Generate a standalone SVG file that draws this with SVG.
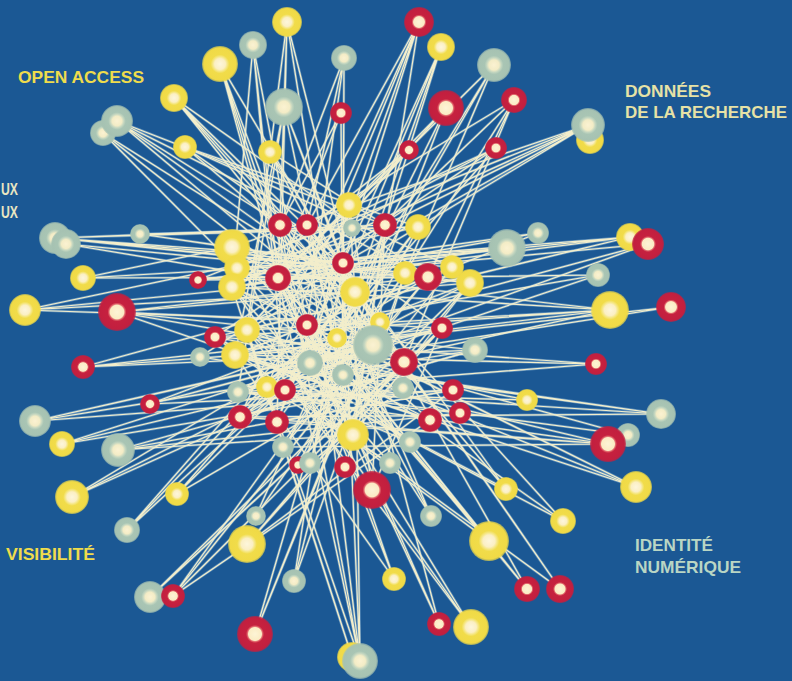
<svg xmlns="http://www.w3.org/2000/svg" xmlns:xlink="http://www.w3.org/1999/xlink" width="792" height="681" viewBox="0 0 792 681">
<defs>
<radialGradient id="gy"><stop offset="0" stop-color="#fdf6dc"/><stop offset="0.3" stop-color="#fbefc4"/><stop offset="0.42" stop-color="#f5e67e"/><stop offset="0.52" stop-color="#f1dc4a"/><stop offset="0.9" stop-color="#f0da46"/><stop offset="1" stop-color="#f0da46" stop-opacity="0.6"/></radialGradient>
<radialGradient id="gs"><stop offset="0" stop-color="#fbf2d2"/><stop offset="0.3" stop-color="#f3ecc6"/><stop offset="0.44" stop-color="#c2d5bf"/><stop offset="0.55" stop-color="#a9c5b4"/><stop offset="0.9" stop-color="#a6c2b2"/><stop offset="1" stop-color="#a6c2b2" stop-opacity="0.6"/></radialGradient>
<radialGradient id="gr"><stop offset="0" stop-color="#fdf4d6"/><stop offset="0.36" stop-color="#fbecc4"/><stop offset="0.42" stop-color="#e26a6e"/><stop offset="0.5" stop-color="#c6213f"/><stop offset="0.9" stop-color="#c21f3f"/><stop offset="1" stop-color="#c21f3f" stop-opacity="0.65"/></radialGradient>
<style>
.y{fill:url(#gy)}.s{fill:url(#gs)}.r{fill:url(#gr)}
.lab{font-family:"Liberation Sans",Arial,sans-serif;font-weight:bold;font-size:17px}
</style>
</defs>
<rect width="792" height="681" fill="#1b5894"/>
<g id="labels">
<text class="lab" x="18" y="83" textLength="126" lengthAdjust="spacingAndGlyphs" fill="#efdc4c">OPEN ACCESS</text>
<text class="lab" x="1" y="195" textLength="17" lengthAdjust="spacingAndGlyphs" fill="#e9e6c2">UX</text>
<text class="lab" x="1" y="218" textLength="17" lengthAdjust="spacingAndGlyphs" fill="#e9e6c2">UX</text>
<text class="lab" x="625" y="97" textLength="86" lengthAdjust="spacingAndGlyphs" fill="#e6e2a6">DONNÉES</text>
<text class="lab" x="625" y="118" textLength="162" lengthAdjust="spacingAndGlyphs" fill="#e6e2a6">DE LA RECHERCHE</text>
<text class="lab" x="6" y="560" textLength="89" lengthAdjust="spacingAndGlyphs" fill="#efdc4c">VISIBILITÉ</text>
<text class="lab" x="635" y="551" textLength="78" lengthAdjust="spacingAndGlyphs" fill="#b9d6c4">IDENTITÉ</text>
<text class="lab" x="635" y="573" textLength="106" lengthAdjust="spacingAndGlyphs" fill="#b9d6c4">NUMÉRIQUE</text>
</g>
<defs>
<g id="edgepaths">
<path d="M287 22L355 292M287 22L353 435M287 22L277 422M287 22L278 278M287 22L247 330"/>
<path d="M253 45L278 278M253 45L307 325M253 45L285 390M253 45L232 287"/>
<path d="M220 64L278 278M220 64L355 292M220 64L307 325M220 64L280 225M220 64L310 363"/>
<path d="M419 22L277 422M419 22L240 417M419 22L353 435M419 22L343 263M419 22L267 387M419 22L278 278"/>
<path d="M441 47L285 390M441 47L355 292M441 47L310 363M441 47L385 225"/>
<path d="M344 58L280 225M344 58L307 225M344 58L307 325M344 58L343 263M344 58L343 375"/>
<path d="M494 65L355 292M494 65L337 338M494 65L405 273M494 65L278 278"/>
<path d="M514 100L343 263M514 100L405 273M514 100L428 277M514 100L307 225M514 100L404 362"/>
<path d="M446 108L343 375M446 108L278 278M446 108L247 330M446 108L355 292"/>
<path d="M284 107L355 292M284 107L353 435M284 107L373 345M284 107L235 355M284 107L238 392"/>
<path d="M174 98L355 292M174 98L428 277M174 98L404 362M174 98L373 345M174 98L343 263"/>
<path d="M117 121L385 225M117 121L343 263M117 121L428 277M117 121L355 292M117 121L404 362"/>
<path d="M103 133L355 292M103 133L373 345M103 133L343 375"/>
<path d="M185 147L418 227M185 147L452 267M185 147L355 292M185 147L442 328"/>
<path d="M341 113L280 225M341 113L278 278M341 113L343 375"/>
<path d="M270 152L373 345M270 152L404 362M270 152L385 225"/>
<path d="M409 150L232 287M409 150L278 278M409 150L247 330"/>
<path d="M496 148L215 337M496 148L232 287M496 148L237 268M496 148L285 390"/>
<path d="M588 125L232 247M588 125L232 287M588 125L278 278M588 125L343 263M588 125L198 280M588 125L247 330"/>
<path d="M55 238L385 225M55 238L418 227M55 238L405 273M55 238L428 277M55 238L452 267M55 238L343 263"/>
<path d="M66 244L470 283M66 244L355 292"/>
<path d="M140 234L418 227M140 234L343 263M140 234L470 283"/>
<path d="M83 278L232 247M83 278L343 263M83 278L428 277"/>
<path d="M25 310L418 227M25 310L405 273M25 310L355 292M25 310L380 322"/>
<path d="M117 312L428 277M117 312L470 283M117 312L404 362M117 312L430 420M117 312L475 350M117 312L442 328"/>
<path d="M83 367L442 328M83 367L475 350M83 367L355 292M83 367L373 345"/>
<path d="M150 404L442 328M150 404L373 345M150 404L470 283M150 404L453 390"/>
<path d="M35 421L373 345M35 421L404 362M35 421L442 328M35 421L453 390M35 421L475 350"/>
<path d="M62 444L404 362M62 444L403 388M62 444L373 345"/>
<path d="M118 450L453 390M118 450L460 413M118 450L353 435M118 450L475 350"/>
<path d="M72 497L373 345M72 497L337 338M72 497L343 375"/>
<path d="M177 494L404 362M177 494L310 363M177 494L355 292"/>
<path d="M127 530L307 325M127 530L337 338M127 530L355 292"/>
<path d="M256 516L355 292M256 516L373 345"/>
<path d="M247 544L404 362M247 544L453 390M247 544L442 328M247 544L470 283"/>
<path d="M150 597L442 328M150 597L404 362M150 597L470 283"/>
<path d="M173 596L428 277M173 596L405 273M173 596L373 345M173 596L430 420M173 596L442 328"/>
<path d="M255 634L373 345M255 634L355 292M255 634L380 322"/>
<path d="M294 581L385 225M294 581L405 273M294 581L343 263"/>
<path d="M352 657L232 287M352 657L247 330"/>
<path d="M360 661L278 278M360 661L280 225M360 661L343 263M360 661L307 225M360 661L247 330M360 661L355 292"/>
<path d="M394 579L307 325M394 579L278 278M394 579L235 355"/>
<path d="M439 624L278 278M439 624L307 325M439 624L343 263"/>
<path d="M471 627L247 330M471 627L232 287M471 627L310 363"/>
<path d="M431 516L280 225M431 516L307 225M431 516L278 278"/>
<path d="M489 541L232 247M489 541L278 278M489 541L307 325M489 541L285 390"/>
<path d="M506 489L280 225M506 489L343 263M506 489L215 337"/>
<path d="M527 589L278 278M527 589L307 325M527 589L343 263"/>
<path d="M560 589L307 225M560 589L355 292M560 589L215 337"/>
<path d="M563 521L215 337M563 521L355 292M563 521L232 287"/>
<path d="M636 487L247 330M636 487L337 338M636 487L232 287M636 487L235 355"/>
<path d="M372 490L385 225M372 490L343 263M372 490L442 328"/>
<path d="M538 233L232 287M538 233L235 355M538 233L198 280"/>
<path d="M630 237L232 287M630 237L247 330M630 237L198 280M630 237L215 337M630 237L237 268"/>
<path d="M648 244L278 278M648 244L235 355M648 244L238 392"/>
<path d="M598 275L198 280M598 275L267 387M598 275L307 325"/>
<path d="M610 310L237 268M610 310L232 287M610 310L247 330M610 310L215 337M610 310L235 355M610 310L238 392"/>
<path d="M671 307L235 355M671 307L310 363"/>
<path d="M596 364L235 355M596 364L238 392M596 364L215 337"/>
<path d="M527 400L215 337M527 400L238 392"/>
<path d="M661 414L310 363M661 414L235 355M661 414L240 417M661 414L285 390"/>
<path d="M628 435L247 330M628 435L267 387"/>
<path d="M608 444L238 392M608 444L240 417M608 444L277 422M608 444L283 447M608 444L235 355"/>
<path d="M507 248L198 280M507 248L232 287M507 248L237 268"/>
<path d="M349 205L355 292M349 205L373 345M349 205L310 363M280 225L353 435M307 225L343 375M385 225L353 435M418 227L310 363M418 227L277 422M232 247L355 292M232 247L373 345M237 268L404 362M232 287L404 362M278 278L353 435M343 263L277 422M355 292L240 417M405 273L283 447M428 277L238 392M452 267L235 355M470 283L267 387M337 338L430 420M380 322L240 417M373 345L240 417M247 330L410 442M235 355L430 420M475 350L240 417M310 363L410 442M343 375L430 420M267 387L390 463M285 390L410 442M238 392L460 413M403 388L310 463M453 390L277 422M353 435L247 330M353 435L470 283M298 465L452 267M310 463L355 292M345 467L405 273M390 463L232 287M283 447L428 277M345 467L232 247M298 465L418 227M310 463L385 225M200 357L403 388M200 357L343 263"/>
</g>
</defs>
<g id="connectors" fill="none" stroke-linecap="round">
<use xlink:href="#edgepaths" stroke="#9fc6e2" stroke-width="2.6" stroke-opacity="0.5"/>
<use xlink:href="#edgepaths" stroke="#f3eecb" stroke-width="1.2"/>
</g>
<g id="nodes">
<g id="t13"><circle cx="103" cy="133" r="13" class="s"/></g>
<g id="t12"><circle cx="117" cy="121" r="16" class="s"/></g>
<g id="t19"><circle cx="590" cy="140" r="14" class="y"/></g>
<g id="t20"><circle cx="588" cy="125" r="17" class="s"/></g>
<g id="t1"><circle cx="287" cy="22" r="15" class="y"/></g>
<g id="t2"><circle cx="253" cy="45" r="14" class="s"/></g>
<g id="t3"><circle cx="220" cy="64" r="18" class="y"/></g>
<g id="t4"><circle cx="419" cy="22" r="15" class="r"/></g>
<g id="t5"><circle cx="441" cy="47" r="14" class="y"/></g>
<g id="t6"><circle cx="344" cy="58" r="13" class="s"/></g>
<g id="t7"><circle cx="494" cy="65" r="17" class="s"/></g>
<g id="t8"><circle cx="514" cy="100" r="13" class="r"/></g>
<g id="t9"><circle cx="446" cy="108" r="18" class="r"/></g>
<g id="t10"><circle cx="284" cy="107" r="19" class="s"/></g>
<g id="t11"><circle cx="174" cy="98" r="14" class="y"/></g>
<g id="t14"><circle cx="185" cy="147" r="12" class="y"/></g>
<g id="t15"><circle cx="341" cy="113" r="11" class="r"/></g>
<g id="t16"><circle cx="270" cy="152" r="12" class="y"/></g>
<g id="t17"><circle cx="409" cy="150" r="10" class="r"/></g>
<g id="t18"><circle cx="496" cy="148" r="11" class="r"/></g>
<g id="l1"><circle cx="55" cy="238" r="16" class="s"/></g>
<g id="l2"><circle cx="66" cy="244" r="15" class="s"/></g>
<g id="l3"><circle cx="140" cy="234" r="10" class="s"/></g>
<g id="l4"><circle cx="83" cy="278" r="13" class="y"/></g>
<g id="l5"><circle cx="25" cy="310" r="16" class="y"/></g>
<g id="l6"><circle cx="117" cy="312" r="19" class="r"/></g>
<g id="l7"><circle cx="83" cy="367" r="12" class="r"/></g>
<g id="l8"><circle cx="150" cy="404" r="10" class="r"/></g>
<g id="l9"><circle cx="35" cy="421" r="16" class="s"/></g>
<g id="l10"><circle cx="62" cy="444" r="13" class="y"/></g>
<g id="l11"><circle cx="118" cy="450" r="17" class="s"/></g>
<g id="l12"><circle cx="72" cy="497" r="17" class="y"/></g>
<g id="l13"><circle cx="177" cy="494" r="12" class="y"/></g>
<g id="l14"><circle cx="127" cy="530" r="13" class="s"/></g>
<g id="b1"><circle cx="256" cy="516" r="10" class="s"/></g>
<g id="b2"><circle cx="247" cy="544" r="19" class="y"/></g>
<g id="b3"><circle cx="150" cy="597" r="16" class="s"/></g>
<g id="b4"><circle cx="173" cy="596" r="12" class="r"/></g>
<g id="b5"><circle cx="255" cy="634" r="18" class="r"/></g>
<g id="b6"><circle cx="294" cy="581" r="12" class="s"/></g>
<g id="b7"><circle cx="352" cy="657" r="15" class="y"/></g>
<g id="b8"><circle cx="360" cy="661" r="18" class="s"/></g>
<g id="b9"><circle cx="394" cy="579" r="12" class="y"/></g>
<g id="b10"><circle cx="439" cy="624" r="12" class="r"/></g>
<g id="b11"><circle cx="471" cy="627" r="18" class="y"/></g>
<g id="b12"><circle cx="431" cy="516" r="11" class="s"/></g>
<g id="b13"><circle cx="489" cy="541" r="20" class="y"/></g>
<g id="b14"><circle cx="506" cy="489" r="12" class="y"/></g>
<g id="b15"><circle cx="527" cy="589" r="13" class="r"/></g>
<g id="b16"><circle cx="560" cy="589" r="14" class="r"/></g>
<g id="b17"><circle cx="563" cy="521" r="13" class="y"/></g>
<g id="b18"><circle cx="636" cy="487" r="16" class="y"/></g>
<g id="b19"><circle cx="372" cy="490" r="19" class="r"/></g>
<g id="r1"><circle cx="538" cy="233" r="11" class="s"/></g>
<g id="r2"><circle cx="630" cy="237" r="14" class="y"/></g>
<g id="r3"><circle cx="648" cy="244" r="16" class="r"/></g>
<g id="r4"><circle cx="598" cy="275" r="12" class="s"/></g>
<g id="r5"><circle cx="610" cy="310" r="19" class="y"/></g>
<g id="r6"><circle cx="671" cy="307" r="15" class="r"/></g>
<g id="r7"><circle cx="596" cy="364" r="11" class="r"/></g>
<g id="r8"><circle cx="527" cy="400" r="11" class="y"/></g>
<g id="r9"><circle cx="661" cy="414" r="15" class="s"/></g>
<g id="r10"><circle cx="628" cy="435" r="12" class="s"/></g>
<g id="r11"><circle cx="608" cy="444" r="18" class="r"/></g>
<g id="r12"><circle cx="507" cy="248" r="19" class="s"/></g>
<g id="c1"><circle cx="349" cy="205" r="13" class="y"/></g>
<g id="c2"><circle cx="280" cy="225" r="12" class="r"/></g>
<g id="c3"><circle cx="307" cy="225" r="11" class="r"/></g>
<g id="c4"><circle cx="352" cy="228" r="9" class="s"/></g>
<g id="c5"><circle cx="385" cy="225" r="12" class="r"/></g>
<g id="c6"><circle cx="418" cy="227" r="13" class="y"/></g>
<g id="c7"><circle cx="232" cy="247" r="18" class="y"/></g>
<g id="c8"><circle cx="237" cy="268" r="13" class="y"/></g>
<g id="c9"><circle cx="198" cy="280" r="9" class="r"/></g>
<g id="c10"><circle cx="232" cy="287" r="14" class="y"/></g>
<g id="c11"><circle cx="278" cy="278" r="13" class="r"/></g>
<g id="c12"><circle cx="343" cy="263" r="11" class="r"/></g>
<g id="c13"><circle cx="355" cy="292" r="15" class="y"/></g>
<g id="c14"><circle cx="405" cy="273" r="12" class="y"/></g>
<g id="c15"><circle cx="428" cy="277" r="14" class="r"/></g>
<g id="c16"><circle cx="452" cy="267" r="12" class="y"/></g>
<g id="c17"><circle cx="470" cy="283" r="14" class="y"/></g>
<g id="c18"><circle cx="307" cy="325" r="11" class="r"/></g>
<g id="c19"><circle cx="337" cy="338" r="10" class="y"/></g>
<g id="c20"><circle cx="380" cy="322" r="10" class="y"/></g>
<g id="c21"><circle cx="373" cy="345" r="20" class="s"/></g>
<g id="c22"><circle cx="247" cy="330" r="13" class="y"/></g>
<g id="c23"><circle cx="215" cy="337" r="11" class="r"/></g>
<g id="c24"><circle cx="235" cy="355" r="14" class="y"/></g>
<g id="c25"><circle cx="200" cy="357" r="10" class="s"/></g>
<g id="c26"><circle cx="442" cy="328" r="11" class="r"/></g>
<g id="c27"><circle cx="475" cy="350" r="13" class="s"/></g>
<g id="c28"><circle cx="310" cy="363" r="13" class="s"/></g>
<g id="c29"><circle cx="343" cy="375" r="11" class="s"/></g>
<g id="c30"><circle cx="404" cy="362" r="14" class="r"/></g>
<g id="c31"><circle cx="267" cy="387" r="11" class="y"/></g>
<g id="c32"><circle cx="285" cy="390" r="11" class="r"/></g>
<g id="c33"><circle cx="238" cy="392" r="11" class="s"/></g>
<g id="c34"><circle cx="403" cy="388" r="11" class="s"/></g>
<g id="c35"><circle cx="453" cy="390" r="11" class="r"/></g>
<g id="c36"><circle cx="240" cy="417" r="12" class="r"/></g>
<g id="c37"><circle cx="277" cy="422" r="12" class="r"/></g>
<g id="c38"><circle cx="430" cy="420" r="12" class="r"/></g>
<g id="c39"><circle cx="460" cy="413" r="11" class="r"/></g>
<g id="c40"><circle cx="353" cy="435" r="16" class="y"/></g>
<g id="c41"><circle cx="283" cy="447" r="11" class="s"/></g>
<g id="c42"><circle cx="410" cy="442" r="11" class="s"/></g>
<g id="c43"><circle cx="298" cy="465" r="9" class="r"/></g>
<g id="c44"><circle cx="310" cy="463" r="11" class="s"/></g>
<g id="c45"><circle cx="345" cy="467" r="11" class="r"/></g>
<g id="c46"><circle cx="390" cy="463" r="11" class="s"/></g>
</g>
</svg>
